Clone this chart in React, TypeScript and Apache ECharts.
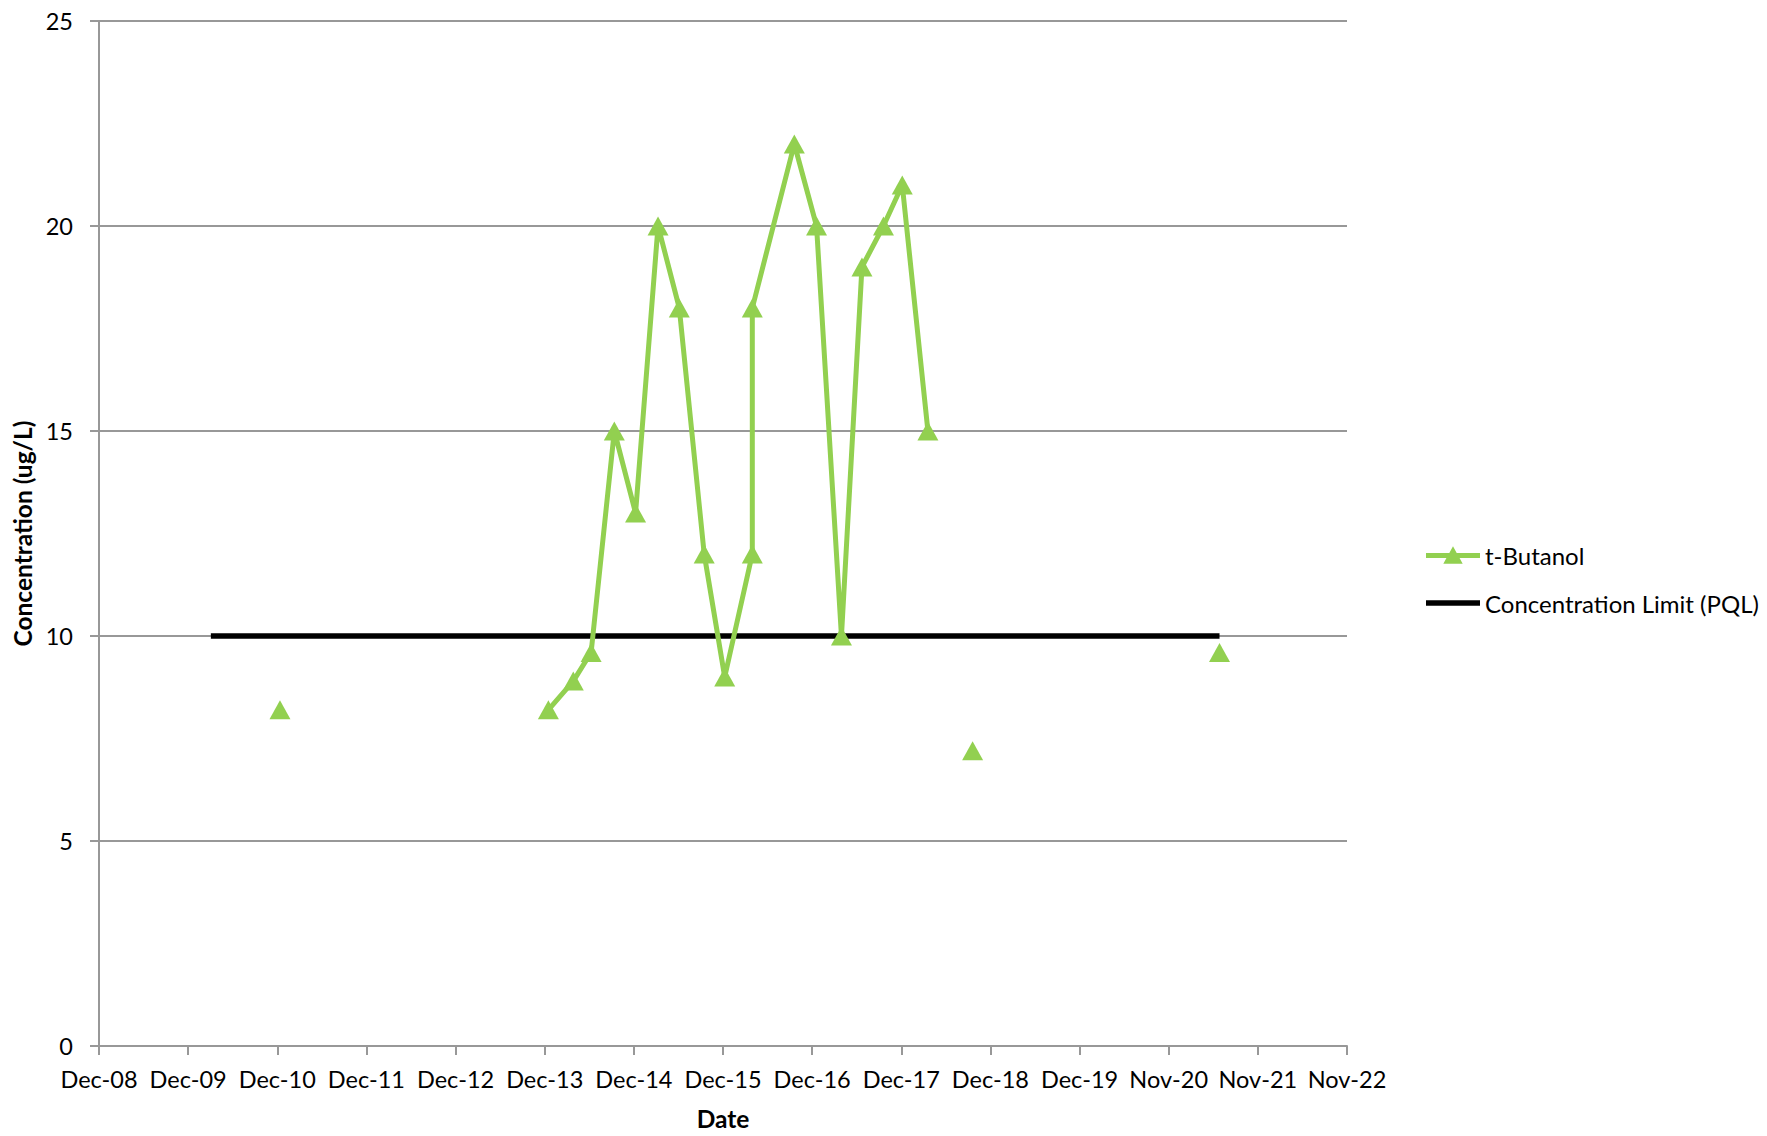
import React, { useEffect, useRef } from "react";
import * as echarts from "echarts";

// Axis origin (Excel date axis starts Dec 3, 2008, major unit 365 days)
const axisStart = "2008-12-03";
const tickLabels = [
  "Dec-08", "Dec-09", "Dec-10", "Dec-11", "Dec-12", "Dec-13", "Dec-14",
  "Dec-15", "Dec-16", "Dec-17", "Dec-18", "Dec-19", "Nov-20", "Nov-21", "Nov-22",
];

// t-Butanol samples; null marks a gap in the line
const sampleDates: (string | null)[] = [
  "2010-12-14", null,
  "2013-12-17", "2014-03-29", "2014-06-10", "2014-09-13", "2014-12-09",
  "2015-03-11", "2015-06-06", "2015-09-16", "2015-12-09", "2016-03-31",
  "2016-03-31", "2016-09-19", "2016-12-19", "2017-03-31", "2017-06-23",
  "2017-09-19", "2017-12-05", "2018-03-20", null,
  "2018-09-19", null,
  "2021-06-26",
];
const tButanol: (number | null)[] = [
  8.2, null,
  8.2, 8.9, 9.6, 15, 13,
  20, 18, 12, 9, 12,
  18, 22, 20, 10, 19,
  20, 21, 15, null,
  7.2, null,
  9.6,
];

const pqlDates = ["2010-03-06", "2021-06-26"];
const pqlValues = [10, 10];

const DAY = 86400000;
const toDays = (d: string) =>
  (Date.parse(d + "T00:00:00Z") - Date.parse(axisStart + "T00:00:00Z")) / DAY;

const FONT = "Lato";

const ICON_TRI =
  "path://M0,6.5 L22.87,6.5 L26.5,0 L30.13,6.5 L53,6.5 L53,11.5 L32.93,11.5 L36,17 L17,17 L20.07,11.5 L0,11.5 Z";
const ICON_BAR = "path://M0,0 L53,0 L53,5.5 L0,5.5 Z";

export default function App() {
  const ref = useRef<HTMLDivElement>(null);
  useEffect(() => {
    if (!ref.current) return;
    const chart = echarts.init(ref.current, undefined, { renderer: "svg" });
    const butData = sampleDates.map((d, i) =>
      d === null || tButanol[i] === null ? "-" : [toDays(d), tButanol[i]]
    );
    const pqlData = pqlDates.map((d, i) => [toDays(d), pqlValues[i]]);
    const gridColor = "#989898";
    chart.setOption({
      animation: false,
      backgroundColor: "#ffffff",
      textStyle: { fontFamily: FONT },
      grid: { left: 99, right: 420, top: 21, bottom: 89, containLabel: false },
      legend: {
        orient: "vertical",
        left: 1421,
        top: 538,
        itemWidth: 54,
        itemHeight: 18,
        itemGap: 24,
        textStyle: { fontFamily: FONT, fontSize: 24, color: "#000" },
        data: [
          { name: "t-Butanol", icon: ICON_TRI, itemStyle: { color: "#92D050" } },
          { name: "Concentration Limit (PQL)", icon: ICON_BAR, itemStyle: { color: "#000" } },
        ],
      },
      xAxis: {
        type: "value",
        min: 0,
        max: 365 * (tickLabels.length - 1),
        interval: 365,
        name: "Date",
        nameLocation: "middle",
        nameGap: 60,
        nameTextStyle: { fontFamily: FONT, fontSize: 24.5, fontWeight: "bold", color: "#000" },
        axisLine: { lineStyle: { color: gridColor, width: 2 } },
        axisTick: { show: true, length: 9, lineStyle: { color: gridColor, width: 2 } },
        splitLine: { show: false },
        axisLabel: {
          fontFamily: FONT,
          fontSize: 23.5,
          color: "#000",
          margin: 21,
          formatter: (v: number) => tickLabels[Math.round(v / 365)] ?? "",
        },
      },
      yAxis: {
        type: "value",
        min: 0,
        max: 25,
        interval: 5,
        name: "Concentration (ug/L)",
        nameLocation: "middle",
        nameRotate: 90,
        nameGap: 64,
        nameTextStyle: { fontFamily: FONT, fontSize: 24.5, fontWeight: "bold", color: "#000" },
        axisLine: { show: true, lineStyle: { color: gridColor, width: 2 } },
        axisTick: { show: true, length: 9, lineStyle: { color: gridColor, width: 2 } },
        splitLine: { show: true, lineStyle: { color: gridColor, width: 2 } },
        axisLabel: { fontFamily: FONT, fontSize: 23.5, color: "#000", margin: 26 },
      },
      series: [
        {
          name: "t-Butanol",
          type: "line",
          data: butData,
          connectNulls: false,
          symbol: "triangle",
          symbolSize: [21, 19],
          showAllSymbol: true,
          itemStyle: { color: "#92D050" },
          lineStyle: { color: "#92D050", width: 5 },
          z: 3,
        },
        {
          name: "Concentration Limit (PQL)",
          type: "line",
          data: pqlData,
          symbol: "none",
          itemStyle: { color: "#000" },
          lineStyle: { color: "#000", width: 5.5 },
          z: 2,
        },
      ],
    });
    return () => chart.dispose();
  }, []);
  return (
    <div
      ref={ref}
      style={{ position: "fixed", left: 0, top: 0, width: 1767, height: 1136 }}
    />
  );
}
